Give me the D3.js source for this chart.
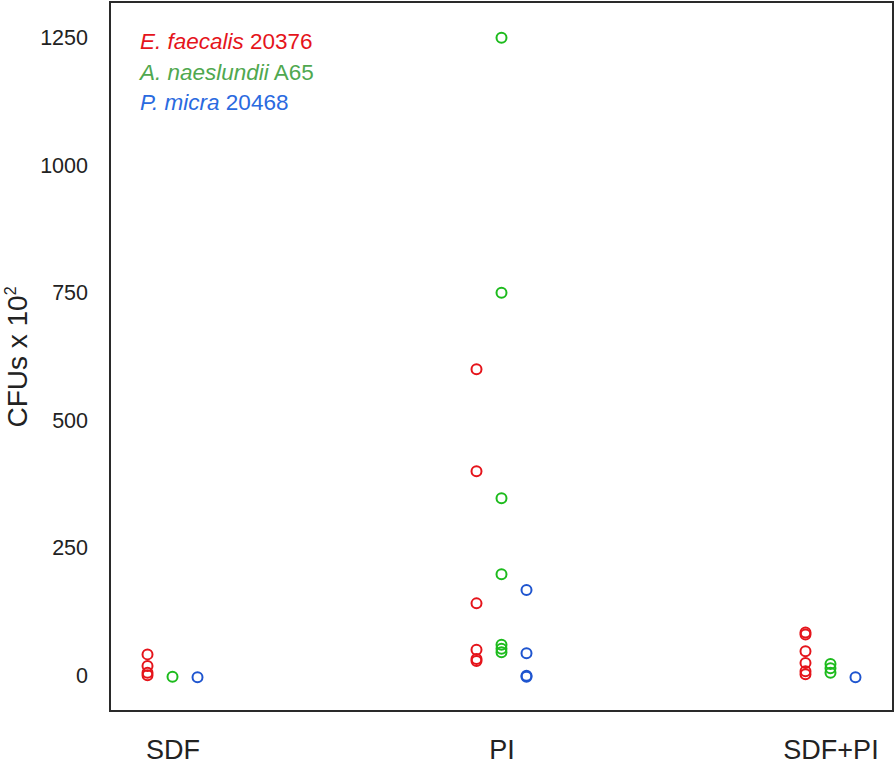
<!DOCTYPE html>
<html>
<head>
<meta charset="utf-8">
<script src="https://cdn.jsdelivr.net/npm/d3@7"></script>
<style>
  html, body { margin: 0; padding: 0; background: #fff; }
  svg { display: block; font-family: "Liberation Sans", Arial, Helvetica, sans-serif; }
</style>
</head>
<body>
<svg id="chart" width="896" height="772"></svg>
<script>
// ---- data ----
const categories = ["SDF", "PI", "SDF+PI"];
const speciesNames = ["E. faecalis", "A. naeslundii", "P. micra"];
const strainIds = ["20376", "A65", "20468"];
const yTicks = [0, 250, 500, 750, 1000, 1250];
// values per category (SDF, PI, SDF+PI)
const efaecalis = [[41, 18, 5, 0], [600, 400, 141, 50, 32, 28], [84, 80, 47, 24, 8, 2]];
const anaeslundii = [[-3], [1250, 750, 347, 198, 60, 52, 45], [22, 14, 5]];
const pmicra = [[-4], [167, 43, -1, -3], [-4]];

const seriesValues = [efaecalis, anaeslundii, pmicra];
const pointColors = ["#e5141b", "#1dbb1d", "#1f55cf"];
const legendColors = ["#e5141b", "#4fa84f", "#2a6ae0"];
const seriesOffsets = [-25, 0, 25];

const svg = d3.select("#chart");
const mLeft = 110, mRight = 893, mTop = 2, mBottom = 711;

const x = d3.scalePoint().domain(categories).range([mLeft, mRight]).padding(0.19);
const y = d3.scaleLinear().domain([-70, 1320]).range([mBottom, mTop]);

// frame
svg.append("rect")
  .attr("x", mLeft).attr("y", mTop)
  .attr("width", mRight - mLeft).attr("height", mBottom - mTop)
  .attr("fill", "none").attr("stroke", "#2a2a2a").attr("stroke-width", 2);

// y axis
const yAxis = d3.axisLeft(y).tickValues(yTicks).tickSize(0).tickPadding(22).tickFormat(d3.format("d"));
const gy = svg.append("g").attr("transform", `translate(${mLeft},0)`).call(yAxis);
gy.select(".domain").remove();
gy.selectAll("text").attr("font-size", 21.5).attr("fill", "#222")
  .attr("font-family", "'Liberation Sans', Arial, sans-serif");

// x axis labels
const xAxis = d3.axisBottom(x).tickSize(0).tickPadding(29);
const gx = svg.append("g").attr("transform", `translate(0,${mBottom})`).call(xAxis);
gx.select(".domain").remove();
gx.selectAll("text").attr("font-size", 27).attr("fill", "#222")
  .attr("font-family", "'Liberation Sans', Arial, sans-serif");

// y title
const yt = svg.append("text")
  .attr("transform", `translate(27,357) rotate(-90)`)
  .attr("text-anchor", "middle")
  .attr("font-size", 28).attr("fill", "#222");
yt.append("tspan").text("CFUs x 10");
yt.append("tspan").attr("font-size", 16).attr("dy", -11).text("2");

// points
const pts = [];
seriesValues.forEach((ser, si) => {
  ser.forEach((vals, ci) => {
    vals.forEach(v => pts.push({ si, cat: categories[ci], v }));
  });
});
svg.append("g").selectAll("circle").data(pts).join("circle")
  .attr("cx", d => x(d.cat) + seriesOffsets[d.si])
  .attr("cy", d => y(d.v))
  .attr("r", 5)
  .attr("fill", "none")
  .attr("stroke", d => pointColors[d.si])
  .attr("stroke-width", 2);

// legend
const lg = svg.append("g");
speciesNames.forEach((name, i) => {
  const t = lg.append("text")
    .attr("x", 140).attr("y", 49 + i * 30.5)
    .attr("font-size", 22.5).attr("fill", legendColors[i]);
  t.append("tspan").attr("font-style", "italic").text(name);
  t.append("tspan").text(" " + strainIds[i]);
});
</script>
</body>
</html>
